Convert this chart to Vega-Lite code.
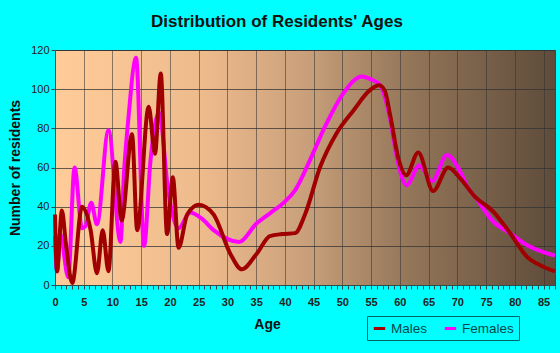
{
  "$schema": "https://vega.github.io/schema/vega-lite/v6.json",
  "width": 500,
  "height": 235,
  "autosize": "none",
  "padding": {"left": 55, "top": 50, "right": 5, "bottom": 68},
  "background": "#00FFFF",
  "title": {
    "text": "Distribution of Residents' Ages",
    "font": "Liberation Sans",
    "fontSize": 17,
    "fontWeight": "bold",
    "color": "#111111",
    "offset": 13,
    "dx": -28
  },
  "config": {
    "view": {
      "stroke": "#444444",
      "fill": {
        "gradient": "linear",
        "x1": 0, "y1": 0, "x2": 1, "y2": 0,
        "stops": [
          {"offset": 0, "color": "#FFCC99"},
          {"offset": 0.3, "color": "#EDBA8C"},
          {"offset": 0.5, "color": "#C9A07B"},
          {"offset": 0.7, "color": "#95775A"},
          {"offset": 1, "color": "#5E4B3A"}
        ]
      }
    },
    "axis": {
      "labelFont": "Liberation Sans",
      "titleFont": "Liberation Sans",
      "labelColor": "#222222",
      "titleColor": "#111111",
      "domainColor": "#2F4F4F",
      "tickColor": "#2F4F4F",
      "gridColor": "#333333",
      "gridOpacity": 0.75
    }
  },
  "datasets": {
    "ages": [
      {"age": 0, "sex": "Males", "n": 36},
      {"age": 0.35, "sex": "Males", "n": 7},
      {"age": 1.2, "sex": "Males", "n": 38},
      {"age": 1.9, "sex": "Males", "n": 21},
      {"age": 3.0, "sex": "Males", "n": 1},
      {"age": 4.7, "sex": "Males", "n": 40},
      {"age": 6.2, "sex": "Males", "n": 28},
      {"age": 7.3, "sex": "Males", "n": 6},
      {"age": 8.3, "sex": "Males", "n": 28},
      {"age": 9.3, "sex": "Males", "n": 7},
      {"age": 10.5, "sex": "Males", "n": 63},
      {"age": 11.6, "sex": "Males", "n": 33},
      {"age": 13.4, "sex": "Males", "n": 77},
      {"age": 14.3, "sex": "Males", "n": 28},
      {"age": 16.3, "sex": "Males", "n": 91},
      {"age": 17.4, "sex": "Males", "n": 67},
      {"age": 18.4, "sex": "Males", "n": 108},
      {"age": 19.5, "sex": "Males", "n": 26},
      {"age": 20.5, "sex": "Males", "n": 55},
      {"age": 21.5, "sex": "Males", "n": 19},
      {"age": 23.0, "sex": "Males", "n": 36},
      {"age": 25.0, "sex": "Males", "n": 41},
      {"age": 27.6, "sex": "Males", "n": 36},
      {"age": 30.5, "sex": "Males", "n": 16},
      {"age": 32.5, "sex": "Males", "n": 8},
      {"age": 35.1, "sex": "Males", "n": 16},
      {"age": 37.4, "sex": "Males", "n": 25},
      {"age": 39.5, "sex": "Males", "n": 26},
      {"age": 41.8, "sex": "Males", "n": 26.5},
      {"age": 43.5, "sex": "Males", "n": 36},
      {"age": 46.1, "sex": "Males", "n": 60},
      {"age": 49.0, "sex": "Males", "n": 77.5},
      {"age": 51.9, "sex": "Males", "n": 89},
      {"age": 54.8, "sex": "Males", "n": 99.5},
      {"age": 56.4, "sex": "Males", "n": 102},
      {"age": 57.4, "sex": "Males", "n": 99},
      {"age": 58.3, "sex": "Males", "n": 87},
      {"age": 59.8, "sex": "Males", "n": 64},
      {"age": 61.1, "sex": "Males", "n": 56},
      {"age": 63.2, "sex": "Males", "n": 67.6},
      {"age": 65.8, "sex": "Males", "n": 48},
      {"age": 68.4, "sex": "Males", "n": 60},
      {"age": 70.5, "sex": "Males", "n": 54.5},
      {"age": 73.1, "sex": "Males", "n": 45},
      {"age": 76.3, "sex": "Males", "n": 37.4},
      {"age": 79.2, "sex": "Males", "n": 26.4},
      {"age": 82.1, "sex": "Males", "n": 14.5},
      {"age": 84.5, "sex": "Males", "n": 10},
      {"age": 87, "sex": "Males", "n": 7},
      {"age": 0, "sex": "Females", "n": 25},
      {"age": 0.35, "sex": "Females", "n": 7},
      {"age": 0.9, "sex": "Females", "n": 26},
      {"age": 2.3, "sex": "Females", "n": 4},
      {"age": 3.4, "sex": "Females", "n": 60},
      {"age": 4.7, "sex": "Females", "n": 29},
      {"age": 5.3, "sex": "Females", "n": 30},
      {"age": 6.3, "sex": "Females", "n": 42},
      {"age": 7.3, "sex": "Females", "n": 31},
      {"age": 9.3, "sex": "Females", "n": 79},
      {"age": 11.4, "sex": "Females", "n": 22},
      {"age": 12.0, "sex": "Females", "n": 57},
      {"age": 12.8, "sex": "Females", "n": 86},
      {"age": 14.1, "sex": "Females", "n": 116},
      {"age": 15.5, "sex": "Females", "n": 20},
      {"age": 16.6, "sex": "Females", "n": 63},
      {"age": 18.1, "sex": "Females", "n": 88},
      {"age": 19.7, "sex": "Females", "n": 48},
      {"age": 21.5, "sex": "Females", "n": 29},
      {"age": 23.5, "sex": "Females", "n": 37},
      {"age": 25.5, "sex": "Females", "n": 34},
      {"age": 27.6, "sex": "Females", "n": 28},
      {"age": 32.0, "sex": "Females", "n": 22},
      {"age": 35.1, "sex": "Females", "n": 31.5},
      {"age": 37.4, "sex": "Females", "n": 36.6},
      {"age": 40.0, "sex": "Females", "n": 42.6},
      {"age": 41.8, "sex": "Females", "n": 48.5},
      {"age": 44.4, "sex": "Females", "n": 64},
      {"age": 47.0, "sex": "Females", "n": 81},
      {"age": 50.2, "sex": "Females", "n": 98},
      {"age": 53.4, "sex": "Females", "n": 106.5},
      {"age": 55.0, "sex": "Females", "n": 105},
      {"age": 56.6, "sex": "Females", "n": 102},
      {"age": 58.3, "sex": "Females", "n": 85},
      {"age": 59.5, "sex": "Females", "n": 65},
      {"age": 61.2, "sex": "Females", "n": 51},
      {"age": 63.4, "sex": "Females", "n": 61},
      {"age": 65.6, "sex": "Females", "n": 53},
      {"age": 68.2, "sex": "Females", "n": 66.4},
      {"age": 70.5, "sex": "Females", "n": 58},
      {"age": 71.9, "sex": "Females", "n": 49.4},
      {"age": 73.1, "sex": "Females", "n": 45},
      {"age": 76.3, "sex": "Females", "n": 32.3},
      {"age": 79.2, "sex": "Females", "n": 26.4},
      {"age": 82.1, "sex": "Females", "n": 20.4},
      {"age": 87, "sex": "Females", "n": 15}
    ]
  },
  "data": {"name": "ages"},
  "encoding": {
    "x": {
      "field": "age",
      "type": "quantitative",
      "scale": {"domain": [0, 87], "nice": false, "zero": false},
      "axis": {
        "title": "Age",
        "titleFontSize": 14,
        "titleFontWeight": "bold",
        "titleX": 212,
        "titleY": 39,
        "titleAlign": "center",
        "titleBaseline": "middle",
        "values": [0,1,2,3,4,5,6,7,8,9,10,11,12,13,14,15,16,17,18,19,20,21,22,23,24,25,26,27,28,29,30,31,32,33,34,35,36,37,38,39,40,41,42,43,44,45,46,47,48,49,50,51,52,53,54,55,56,57,58,59,60,61,62,63,64,65,66,67,68,69,70,71,72,73,74,75,76,77,78,79,80,81,82,83,84,85,86,87],
        "labelExpr": "datum.value % 5 === 0 ? datum.label : ''",
        "labelFontSize": 11,
        "labelFontWeight": "bold",
        "labelPadding": 7,
        "tickSize": 4,
        "grid": true,
        "gridOpacity": {"condition": {"test": "datum.value % 5 === 0 && datum.value > 0", "value": 0.75}, "value": 0},
        "labelOverlap": false,
        "labelFlush": false
      }
    },
    "y": {
      "field": "n",
      "type": "quantitative",
      "scale": {"domain": [0, 120], "nice": false},
      "axis": {
        "title": "Number of residents",
        "titleFontSize": 14,
        "titleFontWeight": "bold",
        "titlePadding": 8,
        "values": [0, 20, 40, 60, 80, 100, 120],
        "labelFontSize": 11,
        "tickSize": 4,
        "grid": true
      }
    },
    "color": {
      "field": "sex",
      "type": "nominal",
      "scale": {"domain": ["Males", "Females"], "range": ["#A00000", "#FF00FF"]},
      "legend": {
        "title": null,
        "orient": "none",
        "legendX": 312,
        "legendY": 266,
        "direction": "horizontal",
        "symbolType": "stroke",
        "symbolStrokeWidth": 3,
        "symbolSize": 130,
        "labelFont": "Liberation Sans",
        "labelFontSize": 13.5,
        "labelColor": "#004848",
        "strokeColor": "#006666",
        "padding": 5,
        "columnPadding": 10,
        "labelOffset": 4
      }
    }
  },
  "layer": [
    {
      "transform": [{"filter": "datum.sex === 'Females'"}],
      "mark": {"type": "line", "interpolate": "monotone", "strokeWidth": 4}
    },
    {
      "transform": [{"filter": "datum.sex === 'Males'"}],
      "mark": {"type": "line", "interpolate": "monotone", "strokeWidth": 4}
    }
  ]
}
